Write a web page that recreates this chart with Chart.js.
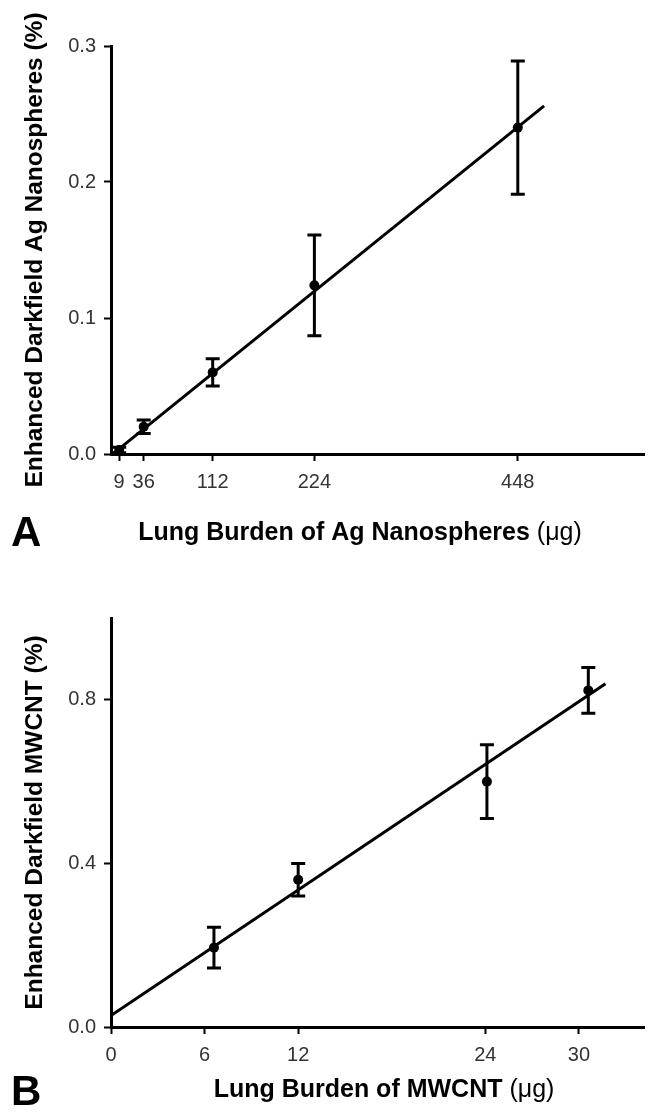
<!DOCTYPE html>
<html>
<head>
<meta charset="utf-8">
<script src="https://cdn.jsdelivr.net/npm/chart.js@4"></script>
<style>
    body { margin: 0; background: #fff; }
    canvas { display: block; }
</style>
</head>
<body>
<canvas id="chartA" width="649" height="560"></canvas>
<canvas id="chartB" width="649" height="553"></canvas>
<script>
// Panel A - Ag nanospheres
const aDose = [9, 36, 112, 224, 448];
const aMean = [0.003, 0.020, 0.060, 0.124, 0.240];
const aErr = [0.002, 0.005, 0.010, 0.037, 0.049];
const aFitX = [0, 477];
const aFitY = [-0.001, 0.256];
const aXTicks = [9, 36, 112, 224, 448];
const aYTicks = [0, 0.1, 0.2, 0.3];

// Panel B - MWCNT
const bDose = [6.6, 12, 24.1, 30.6];
const bMean = [0.194, 0.360, 0.600, 0.823];
const bErr = [0.050, 0.040, 0.090, 0.056];
const bFitX = [0, 31.7];
const bFitY = [0.028, 0.839];
const bXTicks = [0, 6, 12, 24, 30];
const bYTicks = [0, 0.4, 0.8];

const FONT = '"Liberation Sans", Arial, sans-serif';

// error bars drawn from the point dataset through the chart scales
const errorBars = {
    id: 'errorBars',
    afterDatasetsDraw(chart, args, opts) {
        const ctx = chart.ctx;
        const xs = chart.scales.x, ys = chart.scales.y;
        const pts = chart.data.datasets[0].data;
        ctx.save();
        ctx.strokeStyle = '#000';
        ctx.lineWidth = 3;
        pts.forEach((p, i) => {
            const e = opts.errors[i];
            const px = xs.getPixelForValue(p.x);
            const top = ys.getPixelForValue(p.y + e);
            const bot = ys.getPixelForValue(p.y - e);
            ctx.beginPath();
            ctx.moveTo(px, top); ctx.lineTo(px, bot);
            ctx.moveTo(px - 7, top); ctx.lineTo(px + 7, top);
            ctx.moveTo(px - 7, bot); ctx.lineTo(px + 7, bot);
            ctx.stroke();
        });
        ctx.restore();
    }
};

// axis titles and panel letter
const panelText = {
    id: 'panelText',
    afterDraw(chart, args, opts) {
        const { ctx, chartArea } = chart;
        const bold = 'bold 25px ' + FONT;
        const norm = '25px ' + FONT;
        ctx.save();
        ctx.fillStyle = '#000';
        ctx.textBaseline = 'middle';
        ctx.textAlign = 'left';
        ctx.font = bold;
        const w1 = ctx.measureText(opts.xTitle).width;
        ctx.font = norm;
        const w2 = ctx.measureText(opts.xUnit).width;
        const x0 = opts.xTitleX - (w1 + w2) / 2;
        ctx.font = bold;
        ctx.fillText(opts.xTitle, x0, opts.xTitleY);
        ctx.font = norm;
        ctx.fillText(opts.xUnit, x0 + w1, opts.xTitleY);

        ctx.font = 'bold 42px ' + FONT;
        ctx.fillText(opts.letter, opts.letterX, opts.letterY);

        ctx.translate(opts.yTitleX, (chartArea.top + chartArea.bottom) / 2);
        ctx.rotate(-Math.PI / 2);
        ctx.textAlign = 'center';
        ctx.font = 'bold 24.5px ' + FONT;
        ctx.fillText(opts.yTitle, 0, 0);
        ctx.restore();
    }
};

function makePanel(id, p) {
    const points = p.dose.map((d, i) => ({ x: d, y: p.mean[i] }));
    const fit = p.fitX.map((d, i) => ({ x: d, y: p.fitY[i] }));
    const axisCommon = {
        border: { display: true, color: '#000', width: 3 },
        grid: { drawOnChartArea: false, drawTicks: true, tickLength: 7, tickWidth: 2, tickColor: '#000' },
        ticks: { color: '#333', font: { family: FONT, size: 20 } }
    };
    return new Chart(document.getElementById(id), {
        type: 'scatter',
        data: {
            datasets: [{
                data: points,
                pointRadius: 5,
                pointBackgroundColor: '#000',
                pointBorderColor: '#000',
                pointBorderWidth: 0,
                showLine: false
            }, {
                data: fit,
                showLine: true,
                borderColor: '#000',
                borderWidth: 3,
                pointRadius: 0,
                fill: false
            }]
        },
        options: {
            responsive: false,
            animation: false,
            layout: { padding: { left: 0, top: p.top, right: 0, bottom: 0 } },
            plugins: {
                legend: { display: false },
                tooltip: { enabled: false },
                errorBars: { errors: p.err },
                panelText: p.text
            },
            scales: {
                x: {
                    ...axisCommon,
                    type: 'linear',
                    min: 0,
                    max: p.xMax,
                    afterBuildTicks: s => { s.ticks = p.xTicks.map(v => ({ value: v })); },
                    afterFit: s => {
                        s.height = p.xHeight;
                        s.paddingLeft = 0;
                        s.paddingRight = 0;
                    },
                    ticks: { ...axisCommon.ticks, padding: 9, maxRotation: 0, autoSkip: false,
                        callback: v => String(v) }
                },
                y: {
                    ...axisCommon,
                    type: 'linear',
                    min: 0,
                    max: p.yMax,
                    afterBuildTicks: s => { s.ticks = p.yTicks.map(v => ({ value: v })); },
                    afterFit: s => {
                        s.width = 111;
                        s.paddingTop = 0;
                        s.paddingBottom = 0;
                    },
                    ticks: { ...axisCommon.ticks, padding: 8, callback: v => v.toFixed(1) }
                }
            }
        },
        plugins: [errorBars, panelText]
    });
}

makePanel('chartA', {
    dose: aDose, mean: aMean, err: aErr, fitX: aFitX, fitY: aFitY,
    xTicks: aXTicks, yTicks: aYTicks,
    xMax: 587, yMax: 0.3, top: 46, xHeight: 106,
    text: {
        xTitle: 'Lung Burden of Ag Nanospheres ', xUnit: '(\u03bcg)',
        xTitleX: 360, xTitleY: 533,
        yTitle: 'Enhanced Darkfield Ag Nanospheres (%)', yTitleX: 35,
        letter: 'A', letterX: 11, letterY: 534
    }
});

makePanel('chartB', {
    dose: bDose, mean: bMean, err: bErr, fitX: bFitX, fitY: bFitY,
    xTicks: bXTicks, yTicks: bYTicks,
    xMax: 34.17, yMax: 1.0, top: 58, xHeight: 86,
    text: {
        xTitle: 'Lung Burden of MWCNT ', xUnit: '(\u03bcg)',
        xTitleX: 384, xTitleY: 530,
        yTitle: 'Enhanced Darkfield MWCNT (%)', yTitleX: 35,
        letter: 'B', letterX: 11, letterY: 533
    }
});
</script>
</body>
</html>
